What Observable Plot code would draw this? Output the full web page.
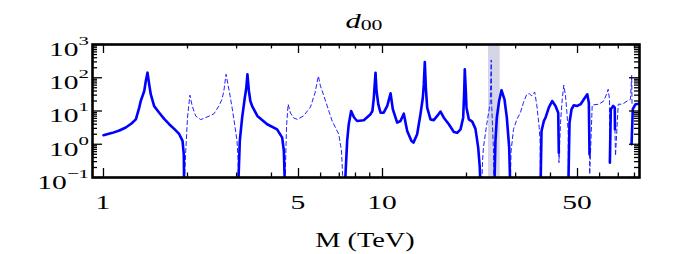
<!DOCTYPE html>
<html><head><meta charset="utf-8">
<script src="https://cdn.jsdelivr.net/npm/d3@7"></script>
<script src="https://cdn.jsdelivr.net/npm/@observablehq/plot@0.6"></script>
<style>
body{margin:0;background:#fff;}
#chart svg{display:block;}
</style></head><body><div id="chart"></div>
<script>
// ---------- text ----------
const titleBase = "d";
const titleSub = "00";
const xLabel = "M (TeV)";

// ---------- ticks ----------
const xMajorTicks = [1, 5, 10, 50];
const xMinorTicks = [2, 3, 4, 6, 7, 8, 9, 20, 30, 40, 60, 70, 80];
const yTickExponents = [-1, 0, 1, 2, 3];

// ---------- shaded band (TeV) ----------
const band = [23.99, 26.42];

// ---------- curve: d00 > 0 (solid) and d00 < 0 (dashed, |d00|) ----------
const posSeg1 = [[1.0,1.87],[1.077,2.2],[1.14,2.6],[1.202,3.2],[1.26,4.2],[1.306,5.6],[1.343,12.6],[1.36,20],[1.40,40],[1.418,80],[1.438,142],[1.458,63],[1.477,32],[1.519,14],[1.584,8.9],[1.65,5.8],[1.72,4.0],[1.80,2.8],[1.867,2.04],[1.92,1.26],[1.94,0.5],[1.946,0.05]];
const negSeg1 = [[1.946,0.05],[1.972,0.63],[2.0,6.3],[2.04,30],[2.08,14],[2.14,7.1],[2.23,5.5],[2.4,7.1],[2.49,8.3],[2.59,14],[2.66,22.6],[2.70,40],[2.75,127],[2.83,35],[2.89,12.6],[2.95,4.1],[3.01,1.26],[3.04,0.3],[3.05,0.05]];
const posSeg2 = [[3.04,0.05],[3.08,1.26],[3.14,6.3],[3.21,25],[3.25,50],[3.28,127],[3.32,40],[3.36,20],[3.41,14],[3.56,7.1],[3.86,4.0],[4.19,2.8],[4.37,1.58],[4.43,0.63],[4.47,0.05]];
const negSeg2 = [[4.47,0.05],[4.53,3.5],[4.59,16],[4.68,8.7],[4.8,6.2],[4.95,5.6],[5.21,7.1],[5.52,13.2],[5.73,35],[5.89,113],[5.99,57],[6.08,40],[6.25,20],[6.6,5.0],[6.97,2.0],[7.13,0.63],[7.23,0.05]];
const posSeg3 = [[7.33,0.05],[7.47,1.26],[7.57,4.0],[7.72,10],[7.9,6.5],[8.11,5.0],[8.57,5.3],[9.06,8.0],[9.2,10],[9.31,25],[9.36,50],[9.44,142],[9.52,40],[9.66,15.9],[9.84,8.9],[10.1,8.9],[10.4,14.2],[10.69,34],[10.89,11.3],[11.29,4.47],[11.6,5.0],[11.92,8.3],[12.26,2.5],[12.7,1.26],[12.91,1.12],[13.31,2.0],[13.68,8.0],[13.95,25],[14.06,63],[14.18,299],[14.3,50],[14.46,12.6],[14.86,5.6],[15.27,5.3],[15.71,7.1],[16.14,9.6],[16.59,6.3],[17.29,4.0],[18.02,2.34],[18.52,2.2],[19.04,2.8],[19.46,6.3],[19.63,40],[19.72,180],[19.89,40],[20.0,12.6],[20.4,5.6],[20.97,4.8],[21.54,2.9],[22.03,0.79],[22.32,0.2],[22.45,0.05]];
const negSeg3 = [[22.69,0.05],[22.83,0.3],[23.0,0.79],[23.64,4.0],[24.33,17.8],[24.53,343],[24.64,12.6],[25.0,0.63],[25.1,0.05]];
const posSeg4 = [[25.17,0.05],[25.4,1.26],[25.69,6.3],[26.18,20],[26.7,42],[27.36,22.5],[27.9,6.3],[28.45,0.79],[28.7,0.05]];
const negSeg4 = [[28.7,0.05],[28.9,0.63],[29.48,2.8],[30.3,5.6],[31.2,8.9],[32.0,17.8],[32.9,31.9],[33.6,33],[34.3,28.5],[35.1,37.4],[35.7,15.9],[36.45,3.16],[36.7,1.26],[36.85,0.05]];
const posSeg5 = [[36.85,0.05],[37.15,2.5],[37.87,5],[38.4,6.3],[39.45,12.6],[40.55,20],[41.7,14.2],[42.64,8.9],[42.85,0.56]];
const negSeg5 = [[42.85,0.56],[42.9,0.28],[43.45,4.47],[44.07,22.5],[44.65,59.5],[45.3,28.4],[45.9,7.1],[46.3,2.23],[46.4,0.05]];
const posSeg6 = [[46.35,0.05],[46.8,4.47],[47.6,11.3],[48.5,14.9],[49.9,14.2],[51.3,16],[52.7,22.5],[54.2,31.9],[54.9,17.8],[55.2,0.5]];
const negSeg6 = [[55.2,0.5],[55.3,0.125],[56.45,15.2],[59.6,16],[62.1,20],[63.5,31.9],[64.4,45],[65.1,22.5],[65.3,0.28]];
const posSeg7 = [[65.3,0.28],[65.8,11.3],[67.1,14.2],[68.0,12.6],[68.1,2.83]];
const negSeg7 = [[68.1,2.83],[68.4,0.45],[69.97,16],[72.3,16],[75.4,20],[77.4,22.5],[78.2,119],[78.4,16]];
const posSeg8 = [[78.1,1.0],[78.9,11.3],[80.7,16],[83.0,16.6],[83.4,17]];

// ---------- build ----------
const W = 681, H = 254;
const mL = 92, mR = 42, mT = 44, mB = 77;
const innerW = W - mL - mR, innerH = H - mT - mB;

const segments = [
  ["pos", posSeg1], ["neg", negSeg1], ["pos", posSeg2], ["neg", negSeg2],
  ["pos", posSeg3], ["neg", negSeg3], ["pos", posSeg4], ["neg", negSeg4],
  ["pos", posSeg5], ["neg", negSeg5], ["pos", posSeg6], ["neg", negSeg6],
  ["pos", posSeg7], ["neg", negSeg7], ["pos", posSeg8]
];
const rows = segments.flatMap(([sign, pts], i) => pts.map(([m, d]) => ({m, d, seg: i, sign})));

const yMajorTicks = yTickExponents.map(e => Math.pow(10, e));
const yMinorTicks = [];
for (const e of yTickExponents.slice(0, -1)) for (let k = 2; k <= 9; k++) yMinorTicks.push(k * Math.pow(10, e));

const font = "'Liberation Serif', 'Times New Roman', serif";
const tk = {stroke: "black", strokeWidth: 1.3};

const chart = Plot.plot({
  width: W, height: H,
  marginLeft: mL, marginRight: mR, marginTop: mT, marginBottom: mB,
  style: {fontFamily: font, background: "white", color: "black"},
  x: {type: "log", domain: [0.9133, 83.39], axis: null},
  y: {type: "log", domain: [0.1, 1000], axis: null},
  marks: [
    Plot.rect([band], {x1: d => d[0], x2: d => d[1], fill: "#d5d5e8"}),
    Plot.line(rows.filter(r => r.sign === "neg"), {x: "m", y: "d", z: "seg", stroke: "#2020ff", strokeWidth: 1, strokeDasharray: "4,3", clip: true}),
    Plot.line(rows.filter(r => r.sign === "pos"), {x: "m", y: "d", z: "seg", stroke: "#0000ff", strokeWidth: 2.6, strokeLinejoin: "round", clip: true}),
    Plot.tickX(xMajorTicks, {x: d => d, insetTop: innerH - 9, ...tk}),
    Plot.tickX(xMajorTicks, {x: d => d, insetBottom: innerH - 9, ...tk}),
    Plot.tickX(xMinorTicks, {x: d => d, insetTop: innerH - 4.5, ...tk}),
    Plot.tickX(xMinorTicks, {x: d => d, insetBottom: innerH - 4.5, ...tk}),
    Plot.tickY(yMajorTicks, {y: d => d, insetRight: innerW - 10, ...tk}),
    Plot.tickY(yMajorTicks, {y: d => d, insetLeft: innerW - 10, ...tk}),
    Plot.tickY(yMinorTicks, {y: d => d, insetRight: innerW - 5, ...tk}),
    Plot.tickY(yMinorTicks, {y: d => d, insetLeft: innerW - 5, ...tk}),
    Plot.frame({stroke: "black", strokeWidth: 2.6})
  ]
});
document.getElementById("chart").appendChild(chart);

// ---------- labels placed through Plot's own scales ----------
const xs = chart.scale("x"), ys = chart.scale("y");
const svg = d3.select(chart);
const TICK_FS = 18.5, SX = 1.6;

for (const v of xMajorTicks) {
  svg.append("text").attr("font-family", font).attr("font-size", TICK_FS)
    .attr("text-anchor", "middle").attr("fill", "black")
    .attr("transform", `translate(${xs.apply(v)},208.5) scale(${SX},1)`)
    .text(String(v));
}
for (const e of yTickExponents) {
  const t = svg.append("text").attr("font-family", font).attr("font-size", TICK_FS)
    .attr("text-anchor", "end").attr("fill", "black")
    .attr("transform", `translate(89,${ys.apply(Math.pow(10, e)) + 11.8}) scale(${SX},1)`);
  t.append("tspan").text("10");
  t.append("tspan").attr("font-size", 13).attr("dy", -11).text(String(e).replace("-", "\u2212"));
}

const title = svg.append("text").attr("font-family", font).attr("font-size", 21)
  .attr("text-anchor", "middle").attr("fill", "black")
  .attr("transform", "translate(364,27.5) scale(1.45,1)");
title.append("tspan").attr("font-style", "italic").text(titleBase);
title.append("tspan").attr("font-size", 15).attr("dy", 2).text(titleSub);

svg.append("text").attr("font-family", font).attr("font-size", 21)
  .attr("text-anchor", "middle").attr("fill", "black")
  .attr("transform", "translate(365,247) scale(1.35,1)")
  .text(xLabel);
</script>
</body></html>
